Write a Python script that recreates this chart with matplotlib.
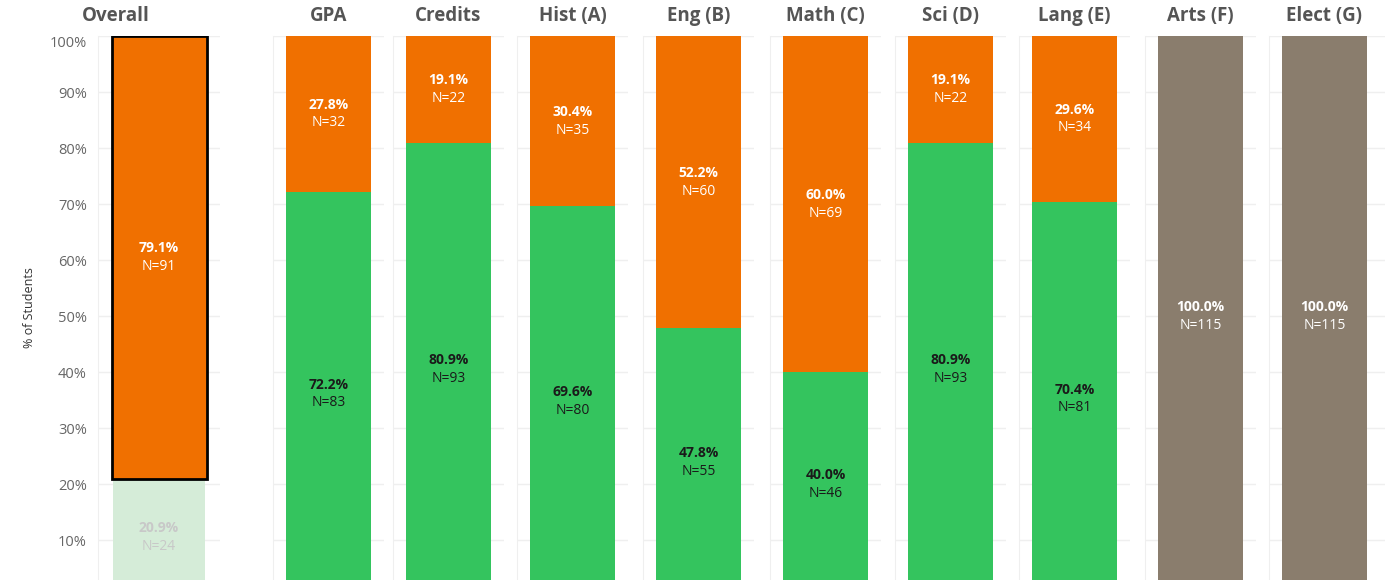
import matplotlib
matplotlib.use('Agg')
import matplotlib.pyplot as plt

# Данные
columns = ['Overall', 'GPA', 'Credits', 'Hist (A)', 'Eng (B)', 'Math (C)',
           'Sci (D)', 'Lang (E)', 'Arts (F)', 'Elect (G)']
green_pct = [20.9, 72.2, 80.9, 69.6, 47.8, 40.0, 80.9, 70.4, 0, 0]
green_n = [24, 83, 93, 80, 55, 46, 93, 81, 0, 0]
orange_pct = [79.1, 27.8, 19.1, 30.4, 52.2, 60.0, 19.1, 29.6, 0, 0]
orange_n = [91, 32, 22, 35, 60, 69, 22, 34, 0, 0]
gray_pct = [0, 0, 0, 0, 0, 0, 0, 0, 100.0, 100.0]
gray_n = [0, 0, 0, 0, 0, 0, 0, 0, 115, 115]
yticks = [10, 20, 30, 40, 50, 60, 70, 80, 90, 100]

ORANGE = '#f07000'
GREEN = '#34c45e'
LIGHT_GREEN = '#d5ecd8'
GRAY = '#8a7d6d'
GRID = '#efefef'

W, H = 1385, 580
fig = plt.figure(figsize=(W / 100, H / 100), dpi=100)
plt.rcParams['font.family'] = ['Open Sans', 'DejaVu Sans']

y_top_px = 36
y_min = 100 - (H - y_top_px) / 5.6  # нижняя граница обрезана

def label(ax, y, pct, n, color):
    ax.annotate(f'{pct:.1f}%', (0, y), xytext=(0, 6.5), textcoords='offset points',
                ha='center', va='center', fontsize=10, fontweight='bold', color=color)
    ax.annotate(f'N={n}', (0, y), xytext=(0, -6.5), textcoords='offset points',
                ha='center', va='center', fontsize=10, color=color)

# Положение панелей (в пикселях): левый край, ширина
panel_left = [98, 273, 393, 517, 643, 770, 895, 1019, 1145, 1269]
panel_w = 111
bar_px = 85

for i, name in enumerate(columns):
    x0 = panel_left[i]
    pw = 122 if i == 0 else panel_w
    x1 = W if i == len(columns) - 1 else x0 + pw
    ax = fig.add_axes([x0 / W, 0, (x1 - x0) / W, 1 - y_top_px / H])
    ax.set_xlim(-pw / 2, x1 - x0 - pw / 2)
    ax.set_ylim(y_min, 100)
    ax.set_yticks(yticks)
    ax.grid(axis='y', color=GRID, linewidth=1)
    ax.set_axisbelow(True)
    ax.set_xticks([])
    for s in ['top', 'right', 'bottom']:
        ax.spines[s].set_visible(False)
    ax.spines['left'].set_color(GRID)
    ax.tick_params(axis='y', length=0, pad=8)

    if i == 0:
        ax.bar(0, green_pct[i], width=92, color=LIGHT_GREEN)
        ax.bar(0, orange_pct[i], bottom=green_pct[i], width=95, color=ORANGE,
               edgecolor='black', linewidth=2)
        label(ax, green_pct[i] / 2, green_pct[i], green_n[i], '#c8c8c8')
        label(ax, green_pct[i] + orange_pct[i] / 2, orange_pct[i], orange_n[i], 'white')
        ax.set_yticklabels([f'{t}%' for t in yticks], fontsize=10.5, color='#666666')
        ax.get_yticklabels()[-1].set_va('top')
        ax.set_ylabel('% of Students', fontsize=9, color='#333333', labelpad=10)
        ax.set_title(name, fontsize=13.5, fontweight='bold', color='#555555', pad=11,
                     x=(116 - x0) / pw)
    else:
        ax.set_yticklabels([])
        if gray_pct[i] > 0:
            ax.bar(0, gray_pct[i], width=bar_px, color=GRAY)
            label(ax, gray_pct[i] / 2, gray_pct[i], gray_n[i], 'white')
        else:
            ax.bar(0, green_pct[i], width=bar_px, color=GREEN)
            ax.bar(0, orange_pct[i], bottom=green_pct[i], width=bar_px, color=ORANGE)
            label(ax, green_pct[i] / 2, green_pct[i], green_n[i], '#1a1a1a')
            label(ax, green_pct[i] + orange_pct[i] / 2, orange_pct[i], orange_n[i], 'white')
        ax.set_title(name, fontsize=13.5, fontweight='bold', color='#555555', pad=11,
                     x=0.5 / ((x1 - x0) / pw))

fig.savefig('out.png', dpi=100)
